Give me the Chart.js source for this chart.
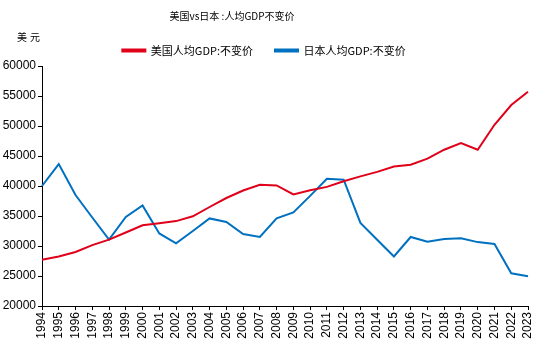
<!DOCTYPE html>
<html>
<head>
<meta charset="utf-8">
<script src="https://cdn.jsdelivr.net/npm/chart.js@4"></script>
<style>
html,body{margin:0;padding:0;background:#fff;}
#wrap{position:relative;width:554px;height:357px;}
#title{position:absolute;left:0;width:464px;top:8px;text-align:center;font:10px "Noto Sans CJK SC","Liberation Sans",sans-serif;color:#000;}
#unit{position:absolute;left:17px;top:29px;font:10px "Noto Sans CJK SC",sans-serif;color:#000;letter-spacing:3px;}
canvas{position:absolute;left:0;top:0;}
</style>
</head>
<body>
<div id="wrap">
<canvas id="c" width="554" height="357"></canvas>
<div id="title">美国vs日本 :人均GDP不变价</div>
<div id="unit">美元</div>
</div>
<script>
const years = ['1994','1995','1996','1997','1998','1999','2000','2001','2002','2003','2004','2005','2006','2007','2008','2009','2010','2011','2012','2013','2014','2015','2016','2017','2018','2019','2020','2021','2022','2023'];
const usGdp = [27700,28250,29000,30150,31070,32250,33450,33800,34150,34950,36500,38000,39250,40200,40100,38600,39300,39850,40800,41600,42350,43250,43550,44550,46050,47150,46050,50200,53500,55700];
const jpGdp = [40000,43650,38500,34750,31050,34850,36750,32100,30450,32500,34600,34000,32000,31500,34600,35600,38350,41200,41050,33850,31050,28250,31500,30700,31150,31300,30650,30350,25450,24950];
const yTicks = {min:20000, max:60000, step:5000};

const font = {family:'"Liberation Sans", Arial, sans-serif', size:12};
new Chart(document.getElementById('c'), {
  type:'line',
  data:{
    labels: years,
    datasets:[
      {label:'美国人均GDP:不变价', data:usGdp, borderColor:'#e0001a', backgroundColor:'#e0001a', borderWidth:2, pointRadius:0, tension:0},
      {label:'日本人均GDP:不变价', data:jpGdp, borderColor:'#0070c0', backgroundColor:'#0070c0', borderWidth:2, pointRadius:0, tension:0}
    ]
  },
  options:{
    responsive:false,
    animation:false,
    devicePixelRatio:1,
    layout:{padding:{top:23,right:26,left:0,bottom:0}},
    plugins:{
      title:{display:false},
      tooltip:{enabled:false},
      legend:{
        display:true,
        position:'top',
        labels:{
          font:{family:'"Noto Sans CJK SC", sans-serif', size:11},
          color:'#000',
          boxWidth:23,
          boxHeight:2,
          padding:22
        }
      }
    },
    scales:{
      x:{
        offset:false,
        grid:{display:true, drawOnChartArea:false, drawTicks:true, tickLength:4, color:'#000'},
        border:{display:true, color:'#000', width:1},
        ticks:{font:font, color:'#000', minRotation:90, maxRotation:90, autoSkip:false, padding:2},
        afterFit:(s)=>{s.height=51;}
      },
      y:{
        min:yTicks.min, max:yTicks.max,
        grid:{display:true, drawOnChartArea:false, drawTicks:true, tickLength:4, color:'#000'},
        border:{display:true, color:'#000', width:1},
        ticks:{font:font, color:'#000', stepSize:yTicks.step, padding:2, callback:(v)=>String(v)},
        afterFit:(s)=>{s.width=42;}
      }
    }
  }
});
</script>
</body>
</html>
